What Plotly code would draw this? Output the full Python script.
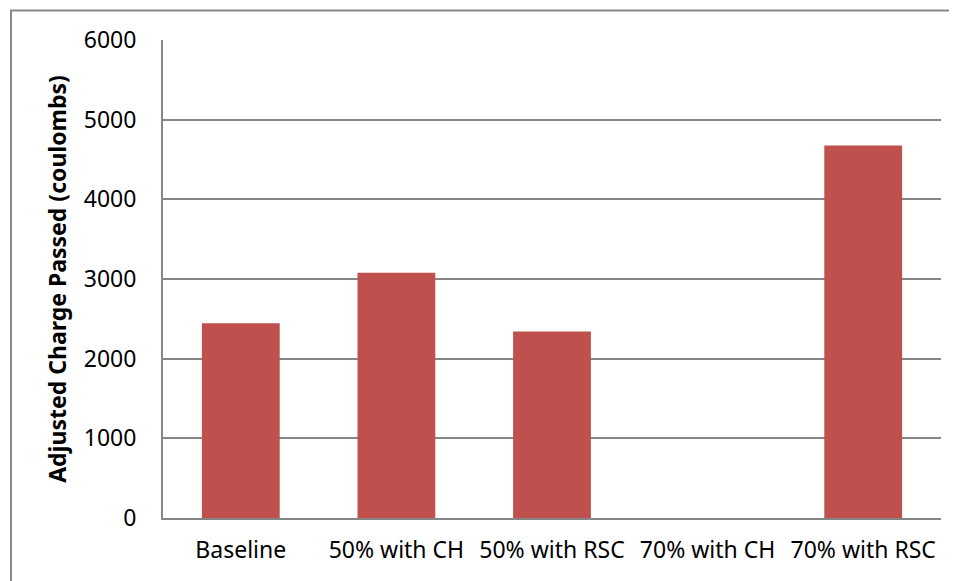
import plotly.graph_objects as go

categories = ["Baseline", "50% with CH", "50% with RSC", "70% with CH", "70% with RSC"]
charge_values = [2445, 3080, 2340, 0, 4675]
y_ticks = [0, 1000, 2000, 3000, 4000, 5000, 6000]

OFF = 8  # page body margin
L, R, T, B = 163 - OFF, 16, 39.5 - OFF, 62.5
W, H = 957 - OFF, 581 - OFF
pw = W - L - R
ph = H - T - B

fig = go.Figure()
fig.add_trace(go.Bar(
    x=categories, y=charge_values,
    marker=dict(color="#C0504D", line=dict(width=0)),
    showlegend=False,
))

font_family = "Noto Sans, Open Sans, sans-serif"
fig.update_layout(
    width=W, height=H,
    margin=dict(l=L, r=R, t=T, b=B, pad=0),
    paper_bgcolor="white", plot_bgcolor="white",
    bargap=0.5,
    font=dict(family=font_family, size=20, color="black"),
    xaxis=dict(
        showgrid=False, showline=True, linecolor="#868686", linewidth=2,
        ticks="", tickfont=dict(size=23), ticklabelstandoff=10,
    ),
    yaxis=dict(
        range=[0, 6000], tickvals=y_ticks,
        showgrid=True, gridcolor="#868686", gridwidth=1.5,
        showline=True, linecolor="#868686", linewidth=2,
        ticks="", tickfont=dict(size=23), ticklabelstandoff=20,
        zeroline=False,
        title=dict(text="<b>Adjusted Charge Passed (coulombs)</b>",
                   font=dict(size=23), standoff=11),
    ),
)

fig.add_shape(
    type="rect", xref="paper", yref="paper",
    x0=(11 - OFF - L) / pw, x1=1.2, y0=-0.3, y1=(H - B - (10 - OFF)) / ph,
    line=dict(color="#888888", width=2), fillcolor="rgba(0,0,0,0)",
    layer="above",
)

fig.write_html("out.html")
